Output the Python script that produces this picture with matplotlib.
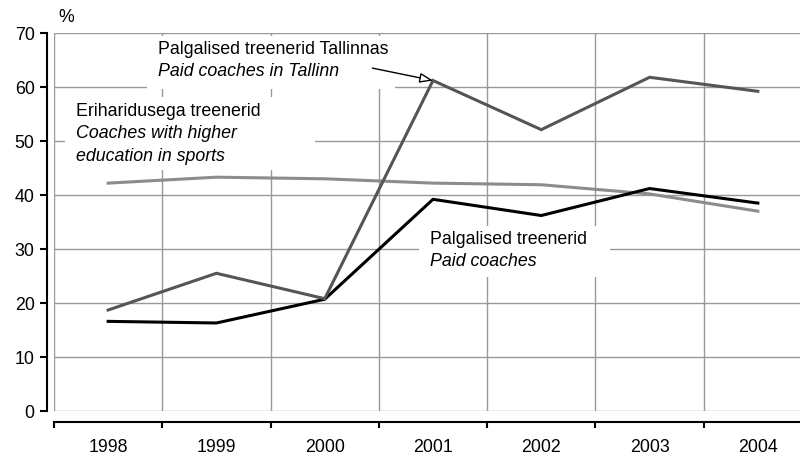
import matplotlib.pyplot as plt
from matplotlib.patches import Rectangle
from matplotlib.ticker import FixedLocator

plt.rcParams['font.family'] = ['Liberation Sans', 'DejaVu Sans']

years = ['1998', '1999', '2000', '2001', '2002', '2003', '2004']
paid_tallinn = [18.7, 25.5, 20.8, 61.2, 52.1, 61.8, 59.2]
higher_edu = [42.2, 43.3, 43.0, 42.2, 41.9, 40.2, 37.0]
paid = [16.6, 16.3, 20.7, 39.2, 36.2, 41.2, 38.5]

FS = 12.8
fig = plt.figure(figsize=(8, 4.55), dpi=100)
ax = fig.add_axes([54 / 800, 44 / 455, 758 / 800, 378 / 455])

x = list(range(len(years)))
ax.plot(x, higher_edu, color='#8c8c8c', lw=2.2, zorder=4, solid_joinstyle='miter')
ax.plot(x, paid, color='black', lw=2.2, zorder=4, solid_joinstyle='miter')
ax.plot(x, paid_tallinn, color='#555555', lw=2.2, zorder=4, solid_joinstyle='miter')

ax.set_xlim(-0.5, len(years) - 0.5)
ax.set_ylim(0, 70)

# axes look
for s in ['top', 'right']:
    ax.spines[s].set_visible(False)
ax.spines['left'].set_position(('outward', 5))
ax.spines['bottom'].set_position(('outward', 8))
for s in ['left', 'bottom']:
    ax.spines[s].set_linewidth(1.5)

ax.set_yticks(range(0, 71, 10))
ax.tick_params(axis='y', direction='out', length=5, width=1.5, labelsize=FS, pad=4)
ax.set_xticks(x)
ax.set_xticklabels(years)
ax.xaxis.set_minor_locator(FixedLocator([i - 0.5 for i in range(len(years) + 1)]))
ax.tick_params(axis='x', which='major', length=0, labelsize=FS, pad=12.5)
ax.tick_params(axis='x', which='minor', direction='out', length=4, width=1.5)

ax.grid(axis='y', color='#999999', lw=1, zorder=0)
ax.grid(axis='x', which='minor', color='#999999', lw=1, zorder=0)
ax.set_axisbelow(True)

# white label boxes
for (x0, y0, w, h) in [(0.36, 59.6, 2.29, 9.8), (-0.40, 44.6, 2.31, 13.6), (2.87, 24.8, 1.76, 9.5)]:
    ax.add_patch(Rectangle((x0, y0), w, h, facecolor='white', edgecolor='none', zorder=2))

ax.text(0.46, 66.9, 'Palgalised treenerid Tallinnas', fontsize=FS, va='center', zorder=5)
ax.text(0.46, 62.8, 'Paid coaches in Tallinn', fontsize=FS, style='italic', va='center', zorder=5)
ax.annotate('', xy=(3, paid_tallinn[3]), xytext=(2.44, 63.5),
            arrowprops=dict(arrowstyle='-|>,head_length=0.8,head_width=0.3', fc='white',
                            ec='black', lw=1, shrinkA=0, shrinkB=0), zorder=5)

ax.text(-0.30, 55.4, 'Eriharidusega treenerid', fontsize=FS, va='center', zorder=5)
ax.text(-0.30, 51.3, 'Coaches with higher', fontsize=FS, style='italic', va='center', zorder=5)
ax.text(-0.30, 47.2, 'education in sports', fontsize=FS, style='italic', va='center', zorder=5)

ax.text(2.97, 31.7, 'Palgalised treenerid', fontsize=FS, va='center', zorder=5)
ax.text(2.97, 27.6, 'Paid coaches', fontsize=FS, style='italic', va='center', zorder=5)

fig.text(66 / 800, 1 - 17 / 455, '%', fontsize=FS, ha='center', va='center')

fig.savefig('out.png', dpi=100)
